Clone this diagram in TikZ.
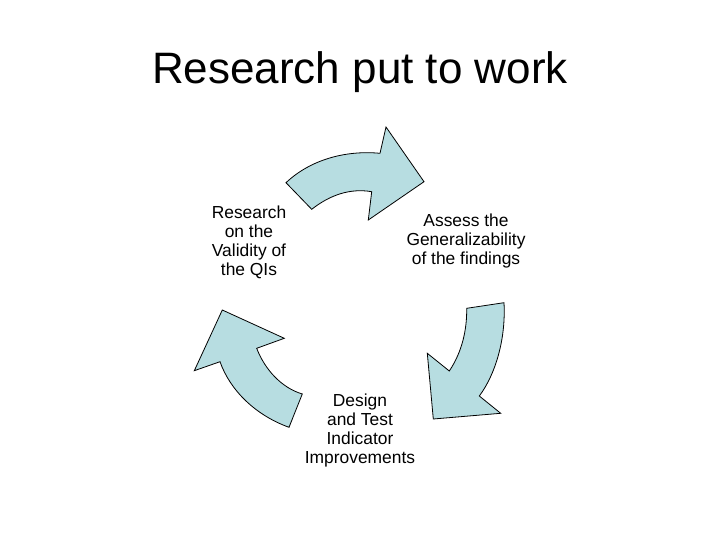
\documentclass[tikz,border=0pt]{standalone}
\usepackage{fontspec}
\setmainfont{Liberation Sans}
\definecolor{arrowfill}{RGB}{183,221,225}
\begin{document}
\begin{tikzpicture}[x=1pt,y=-1pt,
  cyclearrow/.style={draw=black, line width=0.8pt, fill=arrowfill, line join=miter},
  steptext/.style={align=center, font=\fontsize{17.4}{19}\selectfont, inner sep=0pt}]
\useasboundingbox (0,0) rectangle (720,540);
\node[anchor=base, font=\fontsize{44}{50}\selectfont, inner sep=0pt] (title) at (360,84) {Research put to work};
% top arrow
\draw[cyclearrow] (286,182.7) .. controls (310,160) and (345,150) .. (380,153.3)
  -- (386,127) -- (424,181.7) -- (368.3,220) -- (371.7,191.7)
  .. controls (350,188) and (330,195) .. (311.7,209.3) -- cycle;
% right arrow
\draw[cyclearrow] (504,302.7) .. controls (506,340) and (495,375) .. (479.3,396)
  -- (500.7,413.3) -- (433.3,419) -- (427.3,353.3) -- (449.3,371)
  .. controls (462,352) and (467,330) .. (466.7,308.3) -- cycle;
% left arrow
\draw[cyclearrow] (222.3,310) -- (284.3,338.3) -- (256.7,348.3)
  .. controls (265,370) and (282,388) .. (302.3,394)
  -- (289,427.3) .. controls (255,415) and (230,390) .. (220,361.7)
  -- (194.3,370.7) -- cycle;
\node[steptext] (research) at (249,242) {Research\\on the\\Validity of\\the QIs};
\node[steptext] (assess) at (466,241) {Assess the\\Generalizability\\of the findings};
\node[steptext] (design) at (360,430) {Design\\and Test\\Indicator\\Improvements};
\end{tikzpicture}
\end{document}
